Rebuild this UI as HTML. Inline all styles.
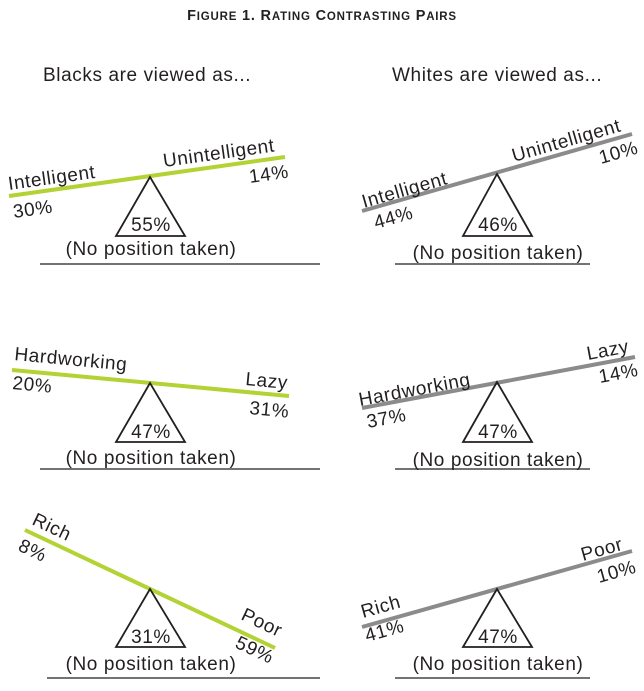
<!DOCTYPE html>
<html><head><style>
html,body{margin:0;padding:0;background:#fff;}
svg{display:block;font-family:"Liberation Sans",sans-serif;}
</style></head><body>
<svg width="644" height="691" viewBox="0 0 644 691" xmlns="http://www.w3.org/2000/svg">
<g fill="#231f20">
<text x="322" y="20" text-anchor="middle" font-size="14.5" font-weight="bold" letter-spacing="0.8">F<tspan font-size="11.5">IGURE</tspan> 1. R<tspan font-size="11.5">ATING</tspan> C<tspan font-size="11.5">ONTRASTING</tspan> P<tspan font-size="11.5">AIRS</tspan></text>
<text x="43" y="81" font-size="19" letter-spacing="0.6">Blacks are viewed as...</text>
<text x="392" y="81" font-size="19" letter-spacing="0.6">Whites are viewed as...</text>
</g>
<g stroke-linecap="butt">
<line x1="9" y1="196" x2="285" y2="157" stroke="#b3d234" stroke-width="4"/>
<line x1="362" y1="211" x2="632" y2="134" stroke="#8b8b8b" stroke-width="4"/>
<line x1="12" y1="370" x2="289" y2="396" stroke="#b3d234" stroke-width="4"/>
<line x1="362" y1="408" x2="635" y2="357" stroke="#8b8b8b" stroke-width="4"/>
<line x1="25" y1="530" x2="275" y2="648" stroke="#b3d234" stroke-width="4"/>
<line x1="362" y1="627" x2="632" y2="551" stroke="#8b8b8b" stroke-width="4"/>
</g>
<g fill="none" stroke="#231f20" stroke-width="1.8">
<polygon points="150,177 116,236 185,236"/>
<polygon points="497,174 463,236 532,236"/>
<polygon points="150,383 116,442 185,442"/>
<polygon points="497,382 463,442 532,442"/>
<polygon points="150,589 116,647 185,647"/>
<polygon points="497,589 463,647 532,647"/>
</g>
<g stroke="#231f20" stroke-width="1.2">
<line x1="40" y1="264" x2="320" y2="264"/>
<line x1="395" y1="264" x2="590" y2="264"/>
<line x1="40" y1="469" x2="320" y2="469"/>
<line x1="395" y1="469" x2="590" y2="469"/>
<line x1="47" y1="678" x2="320" y2="678"/>
<line x1="395" y1="678" x2="590" y2="678"/>
</g>
<g fill="#231f20" font-size="19" letter-spacing="0.6" text-anchor="middle">
<text x="151" y="231">55%</text>
<text x="498" y="231">46%</text>
<text x="151" y="438">47%</text>
<text x="498" y="438">47%</text>
<text x="151" y="643">31%</text>
<text x="498" y="643">47%</text>
<text x="151" y="255">(No position taken)</text>
<text x="498" y="259">(No position taken)</text>
<text x="151" y="464">(No position taken)</text>
<text x="498" y="466">(No position taken)</text>
<text x="151" y="670">(No position taken)</text>
<text x="498" y="670">(No position taken)</text>
</g>
<g fill="#231f20" font-size="19" letter-spacing="0.6">
<text transform="translate(9,190) rotate(-8)">Intelligent</text>
<text transform="translate(14,218) rotate(-8)">30%</text>
<text transform="translate(164,167) rotate(-8)">Unintelligent</text>
<text transform="translate(250,183) rotate(-8)">14%</text>

<text transform="translate(364,208) rotate(-16)">Intelligent</text>
<text transform="translate(376,229) rotate(-16)">44%</text>
<text transform="translate(514,162) rotate(-16)">Unintelligent</text>
<text transform="translate(601,164) rotate(-16)">10%</text>

<text transform="translate(14,360) rotate(5.4)">Hardworking</text>
<text transform="translate(12,389) rotate(5.4)">20%</text>
<text transform="translate(245,385) rotate(5.4)">Lazy</text>
<text transform="translate(249,414) rotate(5.4)">31%</text>

<text transform="translate(360,406) rotate(-10.6)">Hardworking</text>
<text transform="translate(368,428) rotate(-10.6)">37%</text>
<text transform="translate(588,360) rotate(-10.6)">Lazy</text>
<text transform="translate(600,383) rotate(-10.6)">14%</text>

<text transform="translate(31,524) rotate(25.3)">Rich</text>
<text transform="translate(17,550) rotate(25.3)">8%</text>
<text transform="translate(240,619) rotate(25.3)">Poor</text>
<text transform="translate(234,647) rotate(25.3)">59%</text>

<text transform="translate(363,618) rotate(-15.7)">Rich</text>
<text transform="translate(367,642) rotate(-15.7)">41%</text>
<text transform="translate(583,561) rotate(-15.7)">Poor</text>
<text transform="translate(599,583) rotate(-15.7)">10%</text>
</g>
</svg>
</body></html>
